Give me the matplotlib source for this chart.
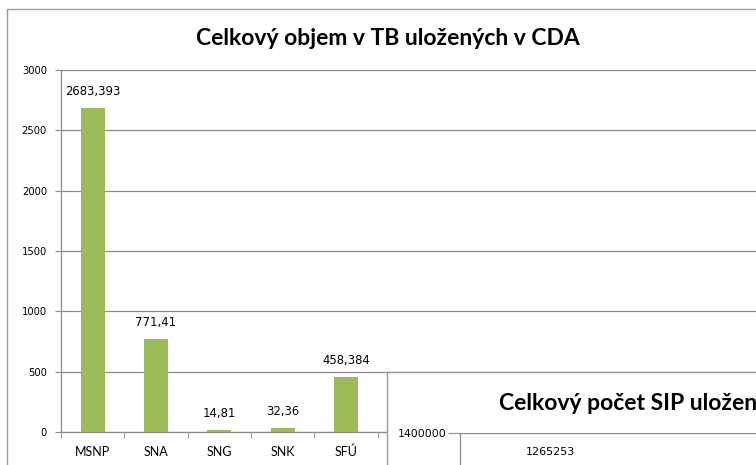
import matplotlib
matplotlib.use("Agg")
import matplotlib.pyplot as plt
from matplotlib.patches import Rectangle

categories = ["MSNP", "SNA", "SNG", "SNK", "SFÚ"]
values = [2683.393, 771.41, 14.81, 32.36, 458.384]
value_labels = ["2683,393", "771,41", "14,81", "32,36", "458,384"]
yticks = [0, 500, 1000, 1500, 2000, 2500, 3000]
title1 = "Celkový objem v TB uložených v CDA"

sip_values = [1265253]
sip_labels = ["1265253"]
sip_yticks = [1400000]
title2 = "Celkový počet SIP uložených v CDA"

W, H = 756, 465
GREEN = "#9BBB59"
GRID = "#8C8C8C"
DPI = 100

def fx(x):
    return x / W

def fy(y):
    return 1 - y / H

fig = plt.figure(figsize=(W / DPI, H / DPI), dpi=DPI)
fig.patch.set_facecolor("white")

# outer frame of first chart
fig.patches.append(Rectangle((fx(6.5), fy(900)), 2.0, fy(9.5) - fy(900),
                             transform=fig.transFigure, fill=False,
                             edgecolor="#9A9A9A", linewidth=1.0, zorder=0))

fig.text(fx(388), fy(38), title1, ha="center", va="center",
         fontsize=16.5, fontweight="bold", family=["Lato", "DejaVu Sans"])

# main axes
cat_w = 63.3
x0 = 61
right_px = 1200
ax = fig.add_axes([fx(x0), fy(432), fx(right_px - x0), (432 - 70) / H])
ax.set_zorder(1)
xs = list(range(len(categories)))
ax.bar(xs, values, width=0.38, color=GREEN, zorder=3)
ax.set_xlim(-0.5, -0.5 + (right_px - x0) / cat_w)
ax.set_ylim(0, 3000)
ax.set_yticks(yticks)
ax.set_yticklabels([str(t) for t in yticks], fontsize=7.2, family="DejaVu Sans")
ax.set_xticks(xs)
ax.set_xticklabels(categories, fontsize=9, family=["Lato", "DejaVu Sans"])
ax.set_xticks([i - 0.5 for i in range(len(categories) + 1)], minor=True)
ax.tick_params(axis="x", which="major", length=0, pad=10)
ax.tick_params(axis="x", which="minor", length=4.3, color=GRID, direction="out")
ax.tick_params(axis="y", length=4.3, color=GRID, pad=5.8)
ax.grid(axis="y", color=GRID, linewidth=0.9, zorder=0)
ax.set_axisbelow(True)
for s in ["top", "right"]:
    ax.spines[s].set_visible(False)
for s in ["left", "bottom"]:
    ax.spines[s].set_color(GRID)
    ax.spines[s].set_linewidth(0.9)
for x, v, lab in zip(xs, values, value_labels):
    ax.annotate(lab, (x, v), xytext=(0, 7), textcoords="offset points",
                ha="center", va="bottom", fontsize=8.4, family="DejaVu Sans")

# second chart box overlapping
box = fig.add_axes([fx(387), 0, fx(W - 387) + 0.1, fy(372)])
box.set_zorder(2)
box.set_facecolor("white")
box.set_xticks([])
box.set_yticks([])
for s in ["right", "bottom"]:
    box.spines[s].set_visible(False)
for s in ["left", "top"]:
    box.spines[s].set_color("#9A9A9A")
    box.spines[s].set_linewidth(1.0)

fig.text(fx(499), fy(403), title2, ha="left", va="center",
         fontsize=16.5, fontweight="bold", family=["Lato", "DejaVu Sans"], zorder=5)

ax3 = fig.add_axes([fx(460), fy(780), fx(900), (780 - 433) / H])
ax3.set_zorder(3)
ax3.patch.set_alpha(0)
ax3.bar([0], sip_values, width=0.4, color=GREEN, zorder=3)
ax3.set_xlim(-0.5, -0.5 + 900 / 180)
ax3.set_ylim(0, 1400000)
ax3.set_yticks(sip_yticks)
ax3.set_yticklabels([str(t) for t in sip_yticks], fontsize=7.8, family="DejaVu Sans")
ax3.set_xticks([])
ax3.tick_params(axis="y", length=8.6, color=GRID, pad=1)
ax3.grid(axis="y", color=GRID, linewidth=0.9, zorder=0)
ax3.set_axisbelow(True)
for s in ["top", "right", "bottom"]:
    ax3.spines[s].set_visible(False)
ax3.spines["left"].set_color(GRID)
ax3.spines["left"].set_linewidth(0.9)
for v, lab in zip(sip_values, sip_labels):
    ax3.annotate(lab, (0, v), xytext=(0, 7), textcoords="offset points",
                 ha="center", va="bottom", fontsize=8, family="DejaVu Sans")

fig.savefig("out.png", dpi=DPI)
